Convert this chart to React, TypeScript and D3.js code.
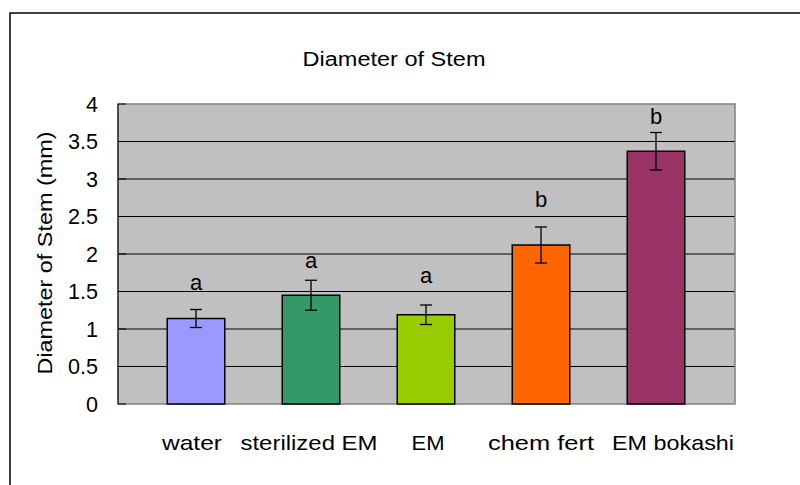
import React from "react";
import * as d3 from "d3";

const categories = ["water", "sterilized EM", "EM", "chem fert", "EM bokashi"];
const values = [1.14, 1.45, 1.19, 2.12, 3.37];
const errors = [0.12, 0.2, 0.13, 0.24, 0.25];
const letters = ["a", "a", "a", "b", "b"];
const letterPos = [1.52, 1.81, 1.61, 2.63, 3.73];
const colors = ["#9999FF", "#339966", "#99CC00", "#FF6600", "#993366"];
const yTicks = [0, 0.5, 1, 1.5, 2, 2.5, 3, 3.5, 4];
const yTickLabels = ["0", "0.5", "1", "1.5", "2", "2.5", "3", "3.5", "4"];
const catLabelWidths = [60, 137, 33, 106, 122];
const catLabelShift = [-4, -2, 2, 0, 17];

const W = 800;
const H = 485;
const plot = { left: 118, right: 735, top: 104, bottom: 404 };
const font = "'Liberation Sans', Arial, sans-serif";

export default function App() {
  const y = d3.scaleLinear().domain([0, 4]).range([plot.bottom, plot.top]);
  const x = d3
    .scaleBand<string>()
    .domain(categories)
    .range([138.5, 713.5])
    .paddingInner(0.5)
    .paddingOuter(0.25);

  return (
    <svg
      width={W}
      height={H}
      style={{ position: "absolute", left: 0, top: 0, display: "block" }}
      fontFamily={font}
    >
      <rect x={0} y={0} width={W} height={H} fill="#fff" />
      <rect x={10} y={13} width={W} height={H} fill="#fff" stroke="#000" strokeWidth={1.5} />
      <text x={394} y={66} textAnchor="middle" fontSize={20} textLength={183} lengthAdjust="spacingAndGlyphs">
        Diameter of Stem
      </text>
      <rect
        x={plot.left}
        y={plot.top}
        width={plot.right - plot.left}
        height={plot.bottom - plot.top}
        fill="#C0C0C0"
      />
      {yTicks.map((t, i) =>
        i > 0 && i < yTicks.length - 1 ? (
          <line key={"g" + i} x1={plot.left} x2={plot.right} y1={y(t)} y2={y(t)} stroke="#000" strokeWidth={1} />
        ) : null
      )}
      <rect
        x={plot.left}
        y={plot.top}
        width={plot.right - plot.left}
        height={plot.bottom - plot.top}
        fill="none"
        stroke="#808080"
        strokeWidth={1.5}
      />
      {yTicks.map((t, i) => (
        <line key={"t" + i} x1={plot.left} x2={plot.left + 8} y1={y(t)} y2={y(t)} stroke="#000" strokeWidth={1} />
      ))}
      <line x1={plot.left} x2={plot.left} y1={plot.top} y2={plot.bottom} stroke="#000" strokeWidth={1} />
      {yTickLabels.map((l, i) => (
        <text key={"yl" + i} x={98} y={y(yTicks[i])} dy="0.36em" textAnchor="end" fontSize={22}
          textLength={l.length > 1 ? 30 : 12} lengthAdjust="spacingAndGlyphs">
          {l}
        </text>
      ))}
      <text
        transform={`translate(52, 253) rotate(-90)`}
        textAnchor="middle"
        fontSize={21}
        textLength={243}
        lengthAdjust="spacingAndGlyphs"
      >
        Diameter of Stem (mm)
      </text>
      {categories.map((c, i) => {
        const bx = x(c)!;
        const bw = x.bandwidth();
        const cx = bx + bw / 2;
        return (
          <g key={c}>
            <rect
              x={bx}
              y={y(values[i])}
              width={bw}
              height={y(0) - y(values[i])}
              fill={colors[i]}
              stroke="#000"
              strokeWidth={1.5}
            />
            <line x1={cx} x2={cx} y1={y(values[i] + errors[i])} y2={y(values[i] - errors[i])} stroke="#000" strokeWidth={1.3} />
            <line x1={cx - 6} x2={cx + 6} y1={y(values[i] + errors[i])} y2={y(values[i] + errors[i])} stroke="#000" strokeWidth={1.3} />
            <line x1={cx - 6} x2={cx + 6} y1={y(values[i] - errors[i])} y2={y(values[i] - errors[i])} stroke="#000" strokeWidth={1.3} />
            <text x={cx} y={y(letterPos[i])} textAnchor="middle" fontSize={22}>
              {letters[i]}
            </text>
            <text
              x={cx + catLabelShift[i]}
              y={450}
              textAnchor="middle"
              fontSize={21}
              textLength={catLabelWidths[i]}
              lengthAdjust="spacingAndGlyphs"
            >
              {c}
            </text>
          </g>
        );
      })}
    </svg>
  );
}
